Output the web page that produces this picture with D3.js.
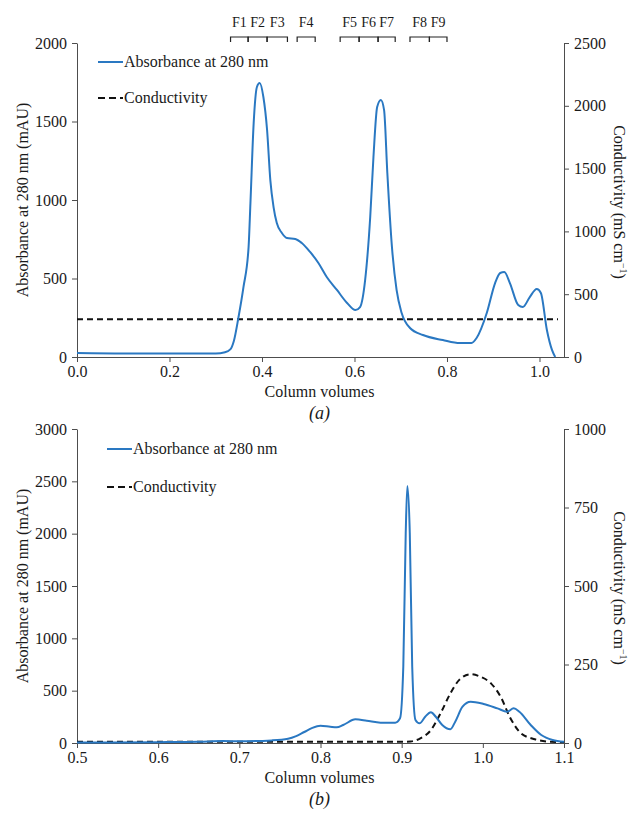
<!DOCTYPE html>
<html>
<head>
<meta charset="utf-8">
<script src="https://cdn.jsdelivr.net/npm/d3@7"></script>
<style>
  body { margin: 0; background: #fff; }
  svg text { font-family: "Liberation Serif", "Times New Roman", serif; fill: #1a1a1a; }
</style>
</head>
<body>
<div id="chart"></div>
<script>
// (a) absorbance trace
const aVolume = [0.0, 0.1, 0.2, 0.30, 0.32, 0.332, 0.339, 0.349, 0.360, 0.371, 0.375, 0.382, 0.389, 0.395, 0.403, 0.411, 0.418, 0.425, 0.432, 0.443, 0.454, 0.472, 0.486, 0.504, 0.522, 0.540, 0.562, 0.584, 0.602, 0.612, 0.623, 0.634, 0.641, 0.649, 0.657, 0.664, 0.671, 0.681, 0.691, 0.702, 0.720, 0.748, 0.791, 0.828, 0.853, 0.864, 0.886, 0.904, 0.915, 0.924, 0.936, 0.954, 0.964, 0.979, 0.994, 1.003, 1.016, 1.027, 1.034];
const aAbsorbance = [25, 22, 22, 22, 30, 50, 100, 250, 446, 700, 980, 1490, 1720, 1745, 1656, 1446, 1127, 955, 853, 790, 758, 752, 726, 669, 599, 510, 427, 344, 299, 318, 490, 892, 1274, 1592, 1637, 1573, 1172, 700, 427, 280, 185, 140, 108, 89, 89, 121, 280, 471, 535, 541, 471, 331, 318, 382, 433, 408, 172, 45, 0];
// (a) conductivity trace
const aCondVolume = [0.0, 0.25, 0.5, 0.75, 1.04];
const aConductivity = [300, 300, 300, 300, 300];

// (a) collected fractions
const fractionLabels = ["F1", "F2", "F3", "F4", "F5", "F6", "F7", "F8", "F9"];
const fractionStart = [0.332, 0.370, 0.411, 0.476, 0.569, 0.610, 0.651, 0.720, 0.762];
const fractionEnd   = [0.370, 0.411, 0.455, 0.515, 0.610, 0.651, 0.688, 0.762, 0.800];

// (b) absorbance trace
const bVolume = [0.5, 0.6, 0.65, 0.68, 0.7, 0.74, 0.76, 0.77, 0.78, 0.79, 0.80, 0.812, 0.82, 0.828, 0.843, 0.857, 0.874, 0.892, 0.898, 0.902, 0.905, 0.907, 0.910, 0.913, 0.917, 0.922, 0.929, 0.936, 0.942, 0.950, 0.960, 0.966, 0.975, 0.985, 1.001, 1.018, 1.030, 1.038, 1.045, 1.059, 1.072, 1.086, 1.1];
const bAbsorbance = [5, 8, 12, 18, 17, 25, 40, 65, 105, 145, 165, 155, 150, 172, 226, 213, 194, 194, 236, 729, 2006, 2455, 2006, 729, 220, 188, 251, 293, 251, 172, 131, 204, 347, 395, 373, 331, 299, 331, 299, 172, 76, 29, 12];
// (b) conductivity trace
const bCondVolume = [0.5, 0.7, 0.9, 0.911, 0.923, 0.936, 0.948, 0.960, 0.971, 0.985, 0.997, 1.010, 1.022, 1.034, 1.047, 1.064, 1.084, 1.1];
const bConductivity = [4, 4, 4, 5, 15, 41, 95, 158, 201, 219, 211, 190, 147, 79, 31, 12, 4, 3];

// axis ticks
const aXTicks = [0, 0.2, 0.4, 0.6, 0.8, 1.0];
const aLeftTicks = [0, 500, 1000, 1500, 2000];
const aRightTicks = [0, 500, 1000, 1500, 2000, 2500];
const bXTicks = [0.5, 0.6, 0.7, 0.8, 0.9, 1.0, 1.1];
const bLeftTicks = [0, 500, 1000, 1500, 2000, 2500, 3000];
const bRightTicks = [0, 250, 500, 750, 1000];

const blue = "#2a78c2";
const axisColor = "#4d4d4d";

const svg = d3.select("#chart").append("svg")
    .attr("width", 631)
    .attr("height", 816);

function drawPanel(cfg) {
    const g = svg.append("g");

    const x = d3.scaleLinear().domain(cfg.xDomain).range([cfg.left, cfg.right]);
    const yL = d3.scaleLinear().domain(cfg.leftDomain).range([cfg.bottom, cfg.top]);
    const yR = d3.scaleLinear().domain(cfg.rightDomain).range([cfg.bottom, cfg.top]);

    //X AXIS
    const xAxisG = g.append("g")
        .attr("transform", `translate(0, ${cfg.bottom})`)
        .call(d3.axisBottom(x).tickValues(cfg.xTicks).tickFormat(d3.format(".1f")).tickSizeInner(5).tickSizeOuter(0).tickPadding(4));

    //LEFT AXIS
    const yLG = g.append("g")
        .attr("transform", `translate(${cfg.left}, 0)`)
        .call(d3.axisLeft(yL).tickValues(cfg.leftTicks).tickFormat(d3.format("d")).tickSizeInner(5).tickSizeOuter(0).tickPadding(5));

    //RIGHT AXIS
    const yRG = g.append("g")
        .attr("transform", `translate(${cfg.right}, 0)`)
        .call(d3.axisRight(yR).tickValues(cfg.rightTicks).tickFormat(d3.format("d")).tickSizeInner(5).tickSizeOuter(0).tickPadding(5));

    [xAxisG, yLG, yRG].forEach(a => {
        a.selectAll("path, line").attr("stroke", axisColor).attr("stroke-width", 1);
        a.selectAll("text").attr("font-size", 16).attr("fill", "#1a1a1a")
            .attr("font-family", '"Liberation Serif", "Times New Roman", serif');
    });

    // axis titles
    g.append("text")
        .attr("transform", `translate(28, ${(cfg.top + cfg.bottom) / 2 + 0}) rotate(-90)`)
        .attr("text-anchor", "middle")
        .attr("font-size", 16)
        .text("Absorbance at 280 nm (mAU)");

    const rt = g.append("text")
        .attr("transform", `translate(614, ${(cfg.top + cfg.bottom) / 2 + 2}) rotate(90)`)
        .attr("text-anchor", "middle")
        .attr("font-size", 16);
    rt.append("tspan").text("Conductivity (mS cm");
    rt.append("tspan").attr("dy", -6).attr("font-size", 10).text("\u22121");
    rt.append("tspan").attr("dy", 6).text(")");

    g.append("text")
        .attr("x", (cfg.left + cfg.right) / 2 - 1)
        .attr("y", cfg.bottom + 40)
        .attr("text-anchor", "middle")
        .attr("font-size", 16)
        .text("Column volumes");

    g.append("text")
        .attr("x", (cfg.left + cfg.right) / 2 - 1)
        .attr("y", cfg.bottom + 62)
        .attr("text-anchor", "middle")
        .attr("font-size", 18)
        .attr("font-style", "italic")
        .text(cfg.panel);

    // conductivity (dashed)
    g.append("path")
        .datum(d3.zip(cfg.condX, cfg.condY))
        .attr("fill", "none")
        .attr("stroke", "#111")
        .attr("stroke-width", 2)
        .attr("stroke-dasharray", "6,4")
        .attr("d", d3.line().x(d => x(d[0])).y(d => yR(d[1])).curve(d3.curveMonotoneX));

    // absorbance
    g.append("path")
        .datum(d3.zip(cfg.absX, cfg.absY))
        .attr("fill", "none")
        .attr("stroke", blue)
        .attr("stroke-width", 2)
        .attr("stroke-linejoin", "round")
        .attr("d", d3.line().x(d => x(d[0])).y(d => yL(d[1])).curve(d3.curveMonotoneX));

    // legend
    const lg = g.append("g").attr("transform", `translate(${cfg.legendX}, ${cfg.legendY})`);
    lg.append("line").attr("x1", 0).attr("x2", 25).attr("y1", 0).attr("y2", 0)
        .attr("stroke", blue).attr("stroke-width", 2);
    lg.append("text").attr("x", 26).attr("y", 5).attr("font-size", 16).text("Absorbance at 280 nm");
    lg.append("line").attr("x1", 0).attr("x2", 25).attr("y1", cfg.legendGap).attr("y2", cfg.legendGap)
        .attr("stroke", "#111").attr("stroke-width", 2).attr("stroke-dasharray", "7,4");
    lg.append("text").attr("x", 26).attr("y", cfg.legendGap + 5).attr("font-size", 16).text("Conductivity");

    return { g, x };
}

const a = drawPanel({
    panel: "(a)",
    left: 77, right: 564, top: 43, bottom: 357,
    xDomain: [0, 1.053], leftDomain: [0, 2000], rightDomain: [0, 2500],
    xTicks: aXTicks, leftTicks: aLeftTicks, rightTicks: aRightTicks,
    absX: aVolume, absY: aAbsorbance, condX: aCondVolume, condY: aConductivity,
    legendX: 98, legendY: 62, legendGap: 36
});

drawPanel({
    panel: "(b)",
    left: 77, right: 564, top: 429, bottom: 743,
    xDomain: [0.5, 1.1], leftDomain: [0, 3000], rightDomain: [0, 1000],
    xTicks: bXTicks, leftTicks: bLeftTicks, rightTicks: bRightTicks,
    absX: bVolume, absY: bAbsorbance, condX: bCondVolume, condY: bConductivity,
    legendX: 107, legendY: 449, legendGap: 38
});

// FRACTION BRACKETS over (a)
const fr = a.g.append("g");
fractionLabels.forEach((lab, i) => {
    const x0 = a.x(fractionStart[i]), x1 = a.x(fractionEnd[i]);
    fr.append("path")
        .attr("d", `M${x0},42 V37 H${x1} V42`)
        .attr("fill", "none")
        .attr("stroke", "#222")
        .attr("stroke-width", 1.2);
    fr.append("text")
        .attr("x", (x0 + x1) / 2)
        .attr("y", 27)
        .attr("text-anchor", "middle")
        .attr("font-size", 14)
        .text(lab);
});
</script>
</body>
</html>
